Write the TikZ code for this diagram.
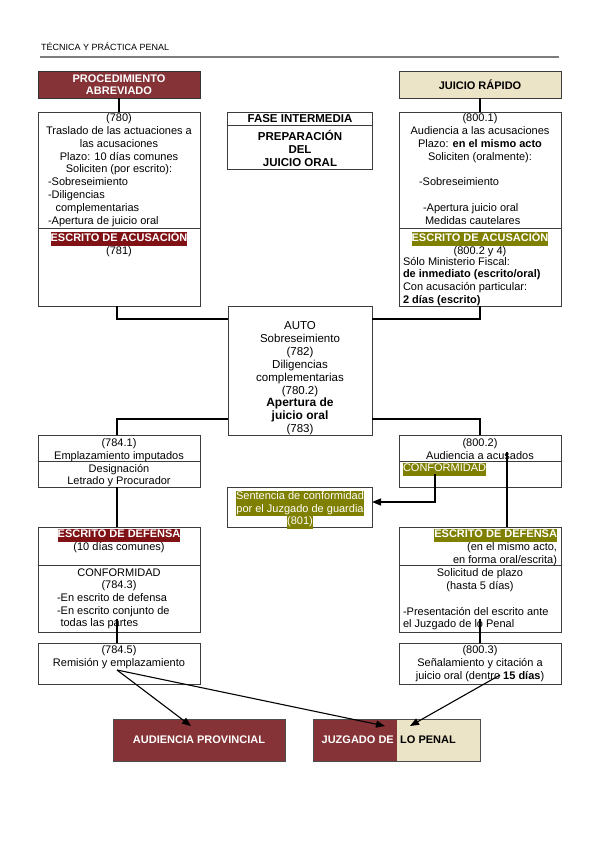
\documentclass[tikz,border=0pt]{standalone}
\usepackage{fontspec}
\setmainfont{Liberation Sans}
\usetikzlibrary{arrows.meta,calc}
\definecolor{boxred}{RGB}{134,51,55}
\definecolor{hlred}{RGB}{128,18,22}
\definecolor{hlolive}{RGB}{128,128,0}
\definecolor{beigefill}{RGB}{236,228,199}
\definecolor{edgegray}{RGB}{60,60,60}
\definecolor{rulegray}{RGB}{125,125,125}
\newcommand\fsz{\fontsize{11}{12.7}\selectfont}
\newcommand\HLr[1]{{\setlength\fboxsep{0pt}\colorbox{hlred}{\strut\textcolor{white}{\bfseries #1}}}}
\newcommand\HLo[1]{{\setlength\fboxsep{0pt}\colorbox{hlolive}{\strut\textcolor{white}{#1}}}}
\begin{document}
\begin{tikzpicture}[x=1pt,y=-1pt,
  box/.style={draw=edgegray, line width=0.8pt, inner sep=0pt, outer sep=0pt, anchor=north west},
  txt/.style={inner sep=0pt, outer sep=0pt, font=\fsz, align=center, anchor=north},
  txl/.style={inner sep=0pt, outer sep=0pt, font=\fsz, align=left, anchor=north west},
  txr/.style={inner sep=0pt, outer sep=0pt, font=\fsz, align=right, anchor=north east},
  divider/.style={draw=edgegray, line width=0.8pt},
  conn/.style={draw=black, line width=1.1pt},
  arr/.style={conn, -{Triangle[length=9pt,width=7pt]}}]
\useasboundingbox (0,0) rectangle (599,848);
\fill[white] (0,0) rectangle (599,848);

% header
\node[anchor=base west, inner sep=0pt, font=\fontsize{9}{11}\selectfont] (hdr) at (41,51) {TÉCNICA Y PRÁCTICA PENAL};
\draw[rulegray, line width=2.2pt] (40,57) -- (559,57);

% top headers
\node[box, draw=black!80, fill=boxred, minimum width=162pt, minimum height=27pt, align=center,
      text=white, font=\bfseries\fontsize{11}{11.5}\selectfont] (PA) at (38,71) {PROCEDIMIENTO\\ABREVIADO};
\node[box, fill=beigefill, minimum width=162pt, minimum height=27pt,
      font=\bfseries\fontsize{11}{12}\selectfont] (JR) at (399,71) {JUICIO RÁPIDO};

% fase intermedia
\node[box, minimum width=145pt, minimum height=57pt] (FI) at (227,112) {};
\draw[divider] (FI.west |- 0,125.5) -- (FI.east |- 0,125.5);
\node[txt, font=\bfseries\fontsize{11.5}{13}\selectfont] (fi1) at (300,114.5) {FASE INTERMEDIA};
\node[txt, font=\bfseries\fontsize{11.5}{13}\selectfont] (fi2) at (300,130) {PREPARACIÓN\\DEL\\JUICIO ORAL};

% left main box
\node[box, minimum width=162pt, minimum height=194pt] (L1) at (38,112) {};
\draw[divider] (L1.west |- 0,228) -- (L1.east |- 0,228);
\node[txt] (l1a) at (119,114) {(780)\\Traslado de las actuaciones a\\las acusaciones\\Plazo: 10 días comunes\\Soliciten (por escrito):};
\node[txl] (l1b) at (48,178) {-Sobreseimiento\\-Diligencias\\\hspace*{7.5pt}complementarias\\-Apertura de juicio oral};
\node[txt] (l1c) at (119,232) {\HLr{ESCRITO DE ACUSACIÓN}\\(781)};

% right main box
\node[box, minimum width=162pt, minimum height=194pt] (R1) at (399,112) {};
\draw[divider] (R1.west |- 0,228) -- (R1.east |- 0,228);
\node[txt] (r1a) at (480,114) {(800.1)\\Audiencia a las acusaciones\\Plazo: \textbf{en el mismo acto}\\Soliciten (oralmente):};
\node[txl] (r1b) at (419,178) {-Sobreseimiento};
\node[txl] (r1c) at (423,204) {-Apertura juicio oral\\\hspace*{2pt}Medidas cautelares};
\node[txt] (r1d) at (480,232) {\HLo{\bfseries ESCRITO DE ACUSACIÓN}\\(800.2 y 4)};
\node[txl] (r1e) at (403,257) {Sólo Ministerio Fiscal:\\\textbf{de inmediato (escrito/oral)}\\Con acusación particular:\\\textbf{2 días (escrito)}};

% auto box
\node[box, minimum width=144pt, minimum height=129pt] (AUTO) at (228,306) {};
\node[txt, font=\fontsize{11.5}{12.9}\selectfont] (autot) at (300,321.5) {AUTO\\Sobreseimiento\\(782)\\Diligencias\\complementarias\\(780.2)\\\textbf{\fontsize{12}{12.9}\selectfont Apertura de}\\\textbf{\fontsize{12}{12.9}\selectfont juicio oral}\\(783)};

% second row
\node[box, minimum width=162pt, minimum height=52pt] (L2) at (38,435) {};
\draw[divider] (L2.west |- 0,461.5) -- (L2.east |- 0,461.5);
\node[txt] (l2a) at (119,439) {(784.1)\\Emplazamiento imputados};
\node[txt] (l2b) at (119,464) {Designación\\Letrado y Procurador};

\node[box, minimum width=162pt, minimum height=52pt] (R2) at (399,435) {};
\draw[divider] (R2.west |- 0,461.5) -- (R2.east |- 0,461.5);
\node[txt] (r2a) at (480,439) {(800.2)\\Audiencia a acusados};
\node[txl] (r2b) at (403,463) {\HLo{CONFORMIDAD}};

\node[box, minimum width=145pt, minimum height=40pt] (SENT) at (227,487) {};
\node[txt] (sentt) at (300,490.5) {\HLo{Sentencia de conformidad}\\\HLo{por el Juzgado de guardia}\\\HLo{(801)}};

% third row
\node[box, minimum width=162pt, minimum height=105pt] (L3) at (38,527) {};
\draw[divider] (L3.west |- 0,565) -- (L3.east |- 0,565);
\node[txt] (l3a) at (119,529) {\HLr{ESCRITO DE DEFENSA}\\(10 días comunes)};
\node[txt] (l3b) at (119,568.5) {CONFORMIDAD\\(784.3)};
\node[txl] (l3c) at (57,593.5) {-En escrito de defensa\\-En escrito conjunto de\\\hspace*{3.5pt}todas las partes};

\node[box, minimum width=162pt, minimum height=105pt] (R3) at (399,527) {};
\draw[divider] (R3.west |- 0,565) -- (R3.east |- 0,565);
\node[txr] (r3a) at (557,529) {\HLo{\bfseries ESCRITO DE DEFENSA}\\(en el mismo acto,\\en forma oral/escrita)};
\node[txt] (r3b) at (480,568.5) {Solicitud de plazo\\(hasta 5 días)};
\node[txl] (r3c) at (403,607) {-Presentación del escrito ante\\el Juzgado de lo Penal};

% fourth row
\node[box, minimum width=162pt, minimum height=41pt] (L4) at (38,643) {};
\node[txt] (l4a) at (119,646) {(784.5)\\Remisión y emplazamiento};
\node[box, minimum width=162pt, minimum height=41pt] (R4) at (399,643) {};
\node[txt] (r4a) at (480,646) {(800.3)\\Señalamiento y citación a\\juicio oral (dentro \textbf{15 días})};

% bottom boxes
\node[box, draw=black!70, fill=boxred, minimum width=172pt, minimum height=42pt, text=white,
      font=\bfseries\fsz] (AP) at (113,719) {AUDIENCIA PROVINCIAL};
\node[box, draw=none, fill=boxred, minimum width=84pt, minimum height=42pt] (JZa) at (313,719) {};
\node[box, draw=none, fill=beigefill, minimum width=83pt, minimum height=42pt] (JZb) at (397,719) {};
\draw[draw=black!70, line width=0.8pt] (JZa.north west) rectangle (JZb.south east);
\node[anchor=east, inner sep=0pt, text=white, font=\bfseries\fsz] (jzat) at (394,740) {JUZGADO DE};
\node[anchor=west, inner sep=0pt, font=\bfseries\fsz] (jzbt) at (400,740) {LO PENAL};

% connectors
\draw[conn] (PA.south) -- (PA.south |- L1.north);
\draw[conn] (JR.south) -- (JR.south |- R1.north);
\draw[conn] (L1.south -| 117,0) |- (AUTO.west |- 0,319);
\draw[conn] (R1.south) |- (AUTO.east |- 0,319);
\draw[conn] (AUTO.west |- 0,419) -| (L2.north -| 117,0);
\draw[conn] (AUTO.east |- 0,419) -| (R2.north);
\draw[conn] (L2.south -| 117,0) -- (L3.north -| 117,0);
\coordinate (r2v) at (507,452);
\draw[conn] (r2v) -- (r2v |- R3.north);
\coordinate (cfv) at (435,474);
\draw[arr] (cfv) |- (SENT.east |- 0,502);
\coordinate (l3v) at (117,619);
\draw[conn] (l3v) -- (l3v |- L4.north);
\coordinate (r3v) at (480,619);
\draw[conn] (r3v) -- (r3v |- R4.north);
\coordinate (s1) at (117,670);
\draw[arr] (s1) -- ($(AP.north west)+(78,7)$);
\draw[arr] (s1) -- ($(JZa.north west)+(72,7)$);
\coordinate (s2) at (500,675);
\draw[arr] (s2) -- ($(JZb.north west)+(13,7)$);
\end{tikzpicture}
\end{document}
